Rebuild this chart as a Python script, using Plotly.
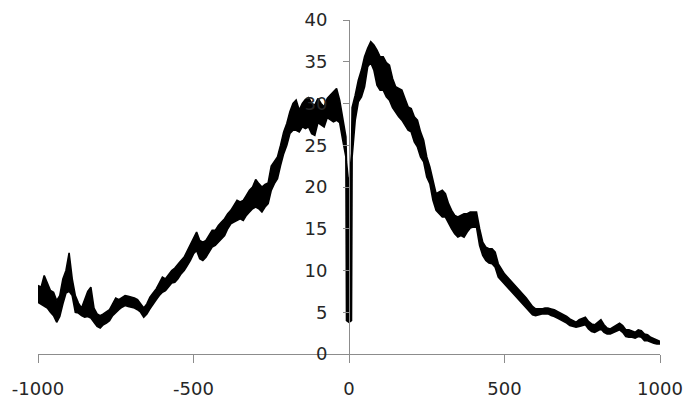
import plotly.graph_objects as go

# Sample positions (bp from centre); extra samples around 0 capture the sharp dip
positions = list(range(-1000, -9, 10)) + [-8, 0, 8] + list(range(10, 1001, 10))

# Upper edge of the noisy signal at each position
signal_high = [
    8.2, 8.0, 9.4, 8.5, 7.6, 7.4, 6.4, 7.0, 9.0, 10.0,
    12.1, 9.0, 7.0, 6.1, 5.5, 6.5, 7.5, 8.0, 5.5, 4.8,
    4.6, 4.8, 5.0, 5.3, 6.0, 6.7, 6.5, 6.8, 7.0, 6.9,
    6.8, 6.7, 6.5, 6.0, 5.5, 6.0, 6.8, 7.3, 7.8, 8.5,
    9.2, 9.0, 9.5, 10.0, 10.3, 10.8, 11.2, 11.6, 12.4, 13.2,
    14.0, 14.6, 13.6, 13.4, 13.6, 14.2, 14.8, 14.8, 15.4, 15.8,
    16.2, 16.8, 17.2, 17.8, 18.4, 18.2, 18.4, 19.0, 19.6, 20.0,
    20.9, 20.4, 20.0, 20.3, 20.5, 22.5, 23.0, 23.6, 25.0, 26.6,
    27.6, 29.0, 30.0, 30.4, 29.2, 30.0, 30.5, 30.7, 30.0, 29.8,
    30.6, 30.0, 29.6, 30.6, 31.0, 31.4, 31.8, 30.4, 28.4, 26.0,
    23.0, 20.0, 24.0,
    29.5, 31.0, 32.8, 34.0, 35.6, 36.6, 37.4, 37.0, 36.4, 35.6,
    35.6, 34.9, 34.6, 33.0, 32.0, 31.8, 31.6, 30.6, 29.6, 29.4,
    28.4, 28.0, 26.6, 25.6, 23.6, 22.4, 20.6, 19.2, 19.4, 19.6,
    19.2, 18.0, 17.2, 16.6, 16.4, 16.6, 16.8, 16.8, 17.0, 17.0,
    17.0, 15.0, 13.4, 12.8, 12.6, 12.6, 12.2, 10.8, 10.2, 9.6,
    9.2, 8.8, 8.4, 8.0, 7.6, 7.2, 6.7, 6.2, 5.7, 5.4,
    5.4, 5.4, 5.5, 5.5, 5.4, 5.3, 5.1, 4.9, 4.8, 4.5,
    4.2, 4.0, 3.8, 4.1, 4.3, 4.4, 3.9, 3.6, 3.5, 3.8,
    4.1, 3.5, 3.1, 3.0, 3.2, 3.5, 3.7, 3.4, 2.9, 2.9,
    2.7, 2.6, 2.9, 2.8, 2.4, 2.3, 2.0, 1.8, 1.6, 1.5,
]

# Lower edge of the noisy signal at each position
signal_low = [
    6.2, 6.0, 5.8, 5.5, 5.0, 4.6, 3.8, 4.5, 6.0, 7.3,
    7.5, 7.0, 5.0, 4.9, 4.6, 4.4, 4.5, 4.3, 3.8, 3.3,
    3.1, 3.5, 3.7, 4.0, 4.6, 5.0, 5.3, 5.6, 5.8, 5.7,
    5.6, 5.5, 5.3, 5.0, 4.4, 4.8, 5.4, 6.0, 6.5, 7.0,
    7.4, 7.6, 8.0, 8.5, 8.6, 9.0, 9.6, 10.0, 10.6, 11.2,
    12.0, 12.4, 11.4, 11.2, 11.6, 12.2, 12.8, 13.0, 13.4, 13.8,
    14.2, 15.0, 15.6, 15.8, 16.0, 16.2, 16.0, 16.6, 17.0, 17.4,
    17.6, 17.4, 17.0, 17.6, 18.0, 19.6, 20.4, 21.0, 22.6, 24.0,
    25.0, 26.4, 26.8, 26.8, 26.6, 27.2, 27.0, 27.2, 26.4, 26.2,
    27.7, 27.4, 27.2, 28.3, 28.0, 27.8, 28.0, 27.7, 25.6, 23.6,
    4.0, 3.8, 4.0,
    23.6, 28.0, 30.2, 30.8, 32.0, 34.4, 34.9, 34.0, 32.2, 31.6,
    31.6, 30.8, 30.4, 29.5, 28.9, 28.4, 28.0, 27.4, 26.8, 26.6,
    25.4, 24.8, 23.6, 23.0, 21.2, 20.4, 18.4, 17.2, 16.8, 16.4,
    16.4, 15.6, 15.0, 14.4, 14.0, 14.2, 14.0, 14.6, 15.1, 15.2,
    15.2, 13.0, 11.8, 11.2, 10.9, 10.8, 10.4, 9.2, 8.8, 8.4,
    8.0, 7.6, 7.2, 6.8, 6.4, 6.0, 5.6, 5.1, 4.7, 4.6,
    4.7, 4.8, 4.8, 4.8, 4.6, 4.5, 4.3, 4.1, 4.0, 3.7,
    3.4, 3.3, 3.2, 3.3, 3.4, 3.5, 3.0, 2.7, 2.6, 2.8,
    3.0, 2.6, 2.4, 2.4, 2.6, 2.8, 2.9, 2.6, 2.1, 2.0,
    2.0, 1.9, 2.1, 2.0, 1.6, 1.6, 1.4, 1.3, 1.2, 1.2,
]

x_ticks = [-1000, -500, 0, 500, 1000]
x_tick_labels = ["-1000", "-500", "0", "500", "1000"]
y_ticks = [0, 5, 10, 15, 20, 25, 30, 35, 40]
y_tick_labels = ["0", "5", "10", "15", "20", "25", "30", "35", "40"]

AXIS_GREY = "#8c8c8c"
TEXT = "#262626"
FONT = "DejaVu Sans"

fig = go.Figure()
fig.add_trace(go.Scatter(
    x=positions, y=signal_low, mode="lines",
    line=dict(color="black", width=1.6), hoverinfo="skip",
))
fig.add_trace(go.Scatter(
    x=positions, y=signal_high, mode="lines",
    line=dict(color="black", width=1.6),
    fill="tonexty", fillcolor="black", hoverinfo="skip",
))

fig.update_layout(
    width=688, height=401,
    margin=dict(l=38, r=28, t=20, b=47, autoexpand=False),
    paper_bgcolor="white", plot_bgcolor="white",
    showlegend=False,
    font=dict(family=FONT, size=18, color=TEXT),
    xaxis=dict(
        range=[-1000, 1000],
        tickvals=x_ticks, ticktext=x_tick_labels,
        showgrid=False, zeroline=False, automargin=False,
        showline=True, linecolor=AXIS_GREY, linewidth=1,
        ticks="outside", ticklen=8, tickcolor=AXIS_GREY, tickwidth=1,
        ticklabelstandoff=10,
    ),
    yaxis=dict(
        range=[0, 40],
        tickvals=y_ticks, ticktext=y_tick_labels,
        anchor="free", position=0.5, side="left", automargin=False,
        showgrid=False, zeroline=False,
        showline=True, linecolor=AXIS_GREY, linewidth=1,
        ticks="outside", ticklen=6, tickcolor=AXIS_GREY, tickwidth=1,
        ticklabelstandoff=12,
    ),
)

fig.write_html("out.html")
